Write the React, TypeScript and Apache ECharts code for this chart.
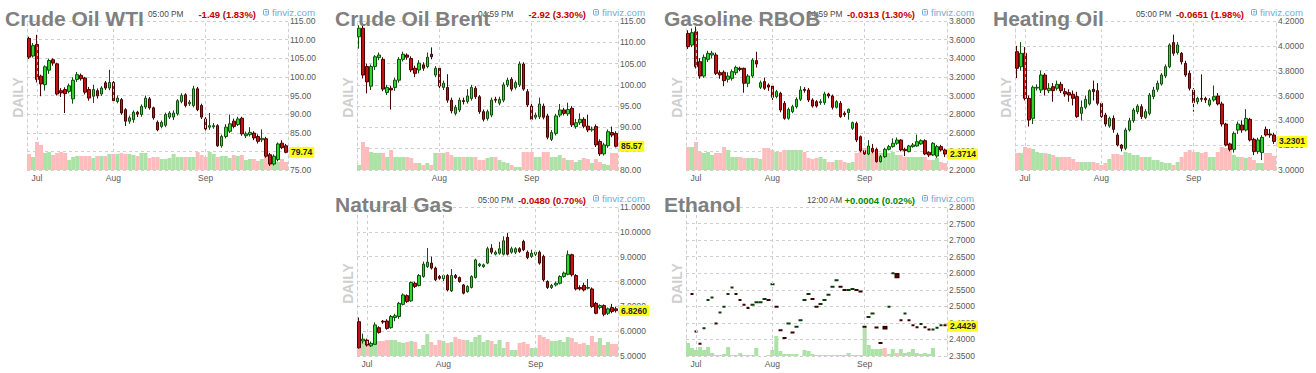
import React, { useEffect, useRef } from 'react';
import * as echarts from 'echarts';

type Candle = [number, number, number, number]; // open, close, low, high

// ---------------- Crude Oil WTI ----------------
const wtiCandles: Candle[] = [
  [110.3, 105.3, 104.8, 110.8], [105.6, 108.4, 105.2, 109.1], [108.7, 99.3, 98.5, 111.3], [100.2, 98.1, 94.8, 100.6],
  [97.9, 102.7, 96.3, 103.1], [101.8, 104.4, 100.8, 104.9], [104.6, 103.7, 103.0, 105.0], [103.5, 95.4, 95.0, 103.8],
  [96.3, 95.7, 94.6, 97.0], [96.6, 95.5, 90.3, 97.2], [96.1, 97.6, 95.6, 98.2], [94.1, 99.1, 92.8, 99.9],
  [99.3, 100.6, 98.6, 101.3], [100.4, 99.5, 99.0, 100.9], [99.7, 95.9, 95.3, 100.0], [96.6, 94.3, 93.6, 97.3],
  [94.8, 96.6, 93.0, 97.9], [96.3, 94.9, 94.2, 96.9], [95.4, 97.0, 94.9, 97.5], [98.4, 97.0, 96.5, 98.9],
  [97.0, 98.5, 96.4, 101.9], [98.5, 93.6, 93.0, 98.9], [93.4, 94.3, 92.9, 95.0], [93.9, 90.3, 89.8, 94.3],
  [91.2, 88.1, 86.8, 91.6], [88.1, 89.0, 87.4, 89.6], [88.5, 90.5, 87.7, 91.0], [90.5, 90.0, 89.2, 90.9],
  [89.9, 92.1, 89.3, 92.6], [91.9, 94.3, 91.4, 95.0], [94.1, 91.7, 91.2, 94.6], [91.7, 89.0, 88.5, 92.0],
  [87.8, 85.8, 85.4, 88.3], [86.7, 87.8, 86.2, 88.3], [87.0, 89.9, 86.5, 90.4], [89.2, 90.3, 88.7, 90.8],
  [89.2, 90.3, 88.4, 91.0], [90.1, 93.6, 89.6, 94.0], [93.4, 95.0, 92.9, 95.6], [95.2, 92.3, 91.8, 95.6],
  [92.8, 93.2, 92.2, 93.8], [92.3, 96.8, 91.8, 97.6], [96.8, 91.2, 90.8, 97.3], [92.3, 89.2, 88.7, 92.8],
  [88.7, 86.0, 85.6, 89.2], [86.5, 86.9, 85.8, 90.3], [86.6, 86.9, 86.1, 87.6], [86.9, 81.5, 81.2, 87.3],
  [81.5, 84.0, 81.0, 84.5], [84.0, 86.5, 83.5, 87.3], [85.4, 87.4, 84.9, 89.9], [88.1, 86.7, 86.2, 88.8],
  [87.2, 88.7, 86.8, 89.3], [88.9, 84.7, 84.2, 89.3], [84.2, 84.7, 83.6, 85.3], [84.5, 85.1, 84.0, 86.5],
  [84.9, 83.6, 83.0, 85.4], [84.0, 82.7, 82.1, 84.6], [83.1, 83.5, 82.5, 85.9], [83.4, 78.7, 78.3, 83.9],
  [79.1, 76.6, 76.1, 79.6], [76.6, 78.7, 76.2, 79.2], [77.8, 82.0, 77.3, 82.4], [82.2, 81.0, 80.6, 83.0],
  [81.5, 79.74, 79.5, 82.0],
];
const wtiVolume: number[] = [
  16, 13, 28, 25, 17, 18, 15, 17, 18, 17, 10, 13, 14, 14, 14, 14, 12, 14, 14, 14,
  16, 16, 16, 17, 16, 16, 15, 14, 17, 17, 12, 13, 13, 11, 11, 12, 16, 13, 13, 13,
  13, 13, 18, 15, 13, 18, 16, 13, 14, 14, 12, 15, 14, 15, 10, 11, 11, 9, 11, 13,
  12, 9, 8, 11, 8,
];

// ---------------- Crude Oil Brent ----------------
const brentCandles: Candle[] = [
  [111.3, 113.3, 108.5, 114.0], [113.3, 102.3, 101.5, 114.3], [104.3, 100.7, 98.0, 105.0], [99.7, 104.3, 98.8, 104.8],
  [104.3, 106.6, 103.5, 107.0], [106.4, 107.0, 105.8, 107.6], [106.0, 99.0, 98.5, 106.5], [98.2, 99.4, 97.6, 100.0],
  [99.2, 98.8, 94.2, 99.8], [99.4, 101.1, 98.6, 101.7], [101.1, 106.0, 100.5, 106.5], [106.0, 107.2, 105.5, 107.8],
  [107.0, 106.5, 105.9, 107.4], [106.2, 103.5, 103.0, 106.7], [103.9, 102.7, 101.8, 104.5], [103.5, 105.1, 102.7, 105.8],
  [104.7, 103.9, 103.3, 105.3], [104.3, 106.5, 103.9, 107.6], [107.2, 106.6, 106.0, 108.8], [102.3, 103.9, 101.8, 104.4],
  [103.9, 99.7, 99.2, 104.3], [99.4, 100.4, 98.8, 101.0], [99.4, 96.4, 95.8, 102.5], [96.4, 93.9, 93.3, 97.0],
  [93.3, 94.7, 92.8, 95.3], [94.1, 96.4, 93.6, 97.0], [96.3, 96.1, 95.4, 97.0], [96.1, 97.4, 95.6, 99.0],
  [96.8, 99.4, 96.3, 100.0], [99.2, 97.2, 96.7, 99.7], [97.2, 93.7, 93.2, 97.6], [93.7, 91.9, 91.4, 94.2],
  [92.1, 93.7, 91.6, 94.2], [92.9, 96.4, 92.4, 97.0], [96.6, 96.4, 95.8, 97.2], [95.7, 96.6, 95.2, 97.2],
  [96.4, 100.0, 95.9, 100.6], [100.0, 101.1, 99.5, 101.7], [101.3, 99.0, 98.5, 101.8], [99.4, 100.5, 98.9, 101.0],
  [100.0, 104.9, 99.5, 105.5], [104.9, 99.0, 98.6, 105.3], [98.4, 95.3, 94.8, 99.0], [95.0, 91.9, 91.4, 95.5],
  [92.4, 92.9, 91.9, 93.5], [92.5, 95.5, 92.0, 97.0], [95.0, 92.4, 91.9, 95.6], [92.7, 87.7, 87.2, 93.2],
  [87.2, 88.8, 86.8, 89.4], [88.6, 92.7, 88.1, 93.2], [92.9, 94.1, 92.4, 95.5], [94.1, 93.3, 92.8, 94.6],
  [93.2, 94.2, 92.7, 95.8], [94.5, 90.6, 90.1, 95.0], [90.2, 91.1, 89.7, 92.0], [91.1, 91.9, 90.6, 93.3],
  [91.9, 90.3, 89.8, 92.4], [90.3, 89.4, 88.9, 93.0], [89.4, 89.6, 89.0, 90.2], [90.2, 85.9, 85.4, 90.7],
  [86.7, 83.8, 83.3, 87.2], [83.8, 85.9, 83.4, 86.4], [85.7, 89.0, 85.2, 89.5], [88.8, 88.2, 87.7, 90.2],
  [88.6, 85.57, 85.3, 89.1],
];
const brentVolume: number[] = [
  5, 28, 23, 18, 17, 17, 17, 13, 20, 13, 13, 13, 13, 12, 7, 7, 5, 7, 5, 17,
  17, 17, 18, 15, 13, 13, 13, 13, 13, 13, 10, 10, 12, 13, 13, 10, 8, 7, 5, 3,
  3, 18, 18, 18, 13, 13, 18, 18, 13, 13, 15, 12, 10, 10, 8, 10, 12, 11, 7, 11,
  8, 6, 5, 17, 17,
];

// ---------------- Gasoline RBOB ----------------
const rbobCandles: Candle[] = [
  [3.667, 3.524, 3.50, 3.700], [3.542, 3.675, 3.52, 3.720], [3.685, 3.310, 3.29, 3.740], [3.363, 3.209, 3.18, 3.400],
  [3.209, 3.410, 3.19, 3.440], [3.388, 3.453, 3.36, 3.480], [3.435, 3.455, 3.40, 3.480], [3.435, 3.238, 3.22, 3.460],
  [3.245, 3.220, 3.18, 3.270], [3.250, 3.159, 3.10, 3.270], [3.174, 3.209, 3.14, 3.250], [3.184, 3.256, 3.16, 3.280],
  [3.245, 3.302, 3.22, 3.320], [3.292, 3.280, 3.26, 3.310], [3.292, 3.131, 3.03, 3.300], [3.131, 3.209, 3.09, 3.230],
  [3.209, 3.381, 3.19, 3.400], [3.374, 3.338, 3.30, 3.470], [3.088, 3.138, 3.07, 3.160], [3.149, 3.077, 3.06, 3.190],
  [3.113, 3.090, 3.05, 3.130], [3.102, 2.980, 2.95, 3.120], [2.988, 3.041, 2.97, 3.060], [3.023, 2.844, 2.82, 3.040],
  [2.916, 2.755, 2.74, 2.940], [2.755, 2.852, 2.74, 2.870], [2.826, 2.880, 2.81, 2.900], [2.880, 2.959, 2.86, 2.980],
  [2.959, 3.059, 2.94, 3.100], [3.066, 3.055, 3.03, 3.090], [3.059, 2.952, 2.93, 3.080], [2.952, 2.887, 2.87, 2.970],
  [2.934, 2.887, 2.87, 2.950], [2.923, 2.934, 2.90, 2.960], [2.923, 3.016, 2.90, 3.040], [3.016, 2.995, 2.97, 3.030],
  [2.995, 2.873, 2.85, 3.010], [2.873, 2.934, 2.86, 2.950], [2.916, 2.773, 2.76, 2.940], [2.809, 2.795, 2.77, 2.830],
  [2.816, 2.852, 2.74, 2.860], [2.648, 2.708, 2.63, 2.720], [2.701, 2.522, 2.50, 2.720], [2.558, 2.408, 2.39, 2.570],
  [2.408, 2.372, 2.34, 2.420], [2.372, 2.458, 2.36, 2.520], [2.433, 2.397, 2.38, 2.480], [2.422, 2.290, 2.28, 2.440],
  [2.290, 2.343, 2.28, 2.360], [2.343, 2.422, 2.33, 2.440], [2.422, 2.451, 2.41, 2.470], [2.451, 2.487, 2.44, 2.540],
  [2.487, 2.522, 2.47, 2.550], [2.522, 2.415, 2.40, 2.530], [2.422, 2.408, 2.35, 2.440], [2.397, 2.458, 2.39, 2.470],
  [2.451, 2.469, 2.44, 2.490], [2.458, 2.504, 2.45, 2.580], [2.480, 2.515, 2.47, 2.530], [2.515, 2.372, 2.36, 2.530],
  [2.390, 2.361, 2.34, 2.400], [2.361, 2.487, 2.35, 2.500], [2.350, 2.451, 2.33, 2.470], [2.451, 2.415, 2.40, 2.470],
  [2.415, 2.3714, 2.34, 2.430],
];
const rbobVolume: number[] = [
  23, 23, 28, 18, 17, 18, 15, 17, 17, 23, 20, 13, 13, 13, 12, 12, 12, 12, 11, 22,
  22, 20, 18, 18, 20, 20, 20, 20, 20, 18, 12, 11, 12, 13, 11, 8, 8, 10, 10, 8,
  7, 8, 17, 22, 22, 17, 20, 15, 17, 17, 17, 18, 15, 15, 13, 13, 13, 13, 13, 13,
  10, 10, 12, 8, 7,
];

// ---------------- Heating Oil ----------------
const hoCandles: Candle[] = [
  [3.953, 3.819, 3.74, 4.00], [3.832, 3.940, 3.80, 4.03], [3.940, 3.577, 3.56, 3.99], [3.577, 3.403, 3.35, 3.60],
  [3.416, 3.666, 3.37, 3.68], [3.660, 3.666, 3.64, 3.69], [3.644, 3.765, 3.62, 3.80], [3.765, 3.650, 3.60, 3.78],
  [3.639, 3.658, 3.62, 3.70], [3.671, 3.639, 3.55, 3.70], [3.658, 3.690, 3.64, 3.72], [3.690, 3.639, 3.62, 3.71],
  [3.631, 3.612, 3.59, 3.66], [3.623, 3.604, 3.55, 3.65], [3.610, 3.577, 3.52, 3.64], [3.591, 3.430, 3.42, 3.63],
  [3.456, 3.505, 3.40, 3.56], [3.505, 3.569, 3.49, 3.60], [3.532, 3.639, 3.52, 3.65], [3.650, 3.631, 3.56, 3.72],
  [3.639, 3.537, 3.52, 3.70], [3.537, 3.430, 3.42, 3.55], [3.443, 3.370, 3.35, 3.46], [3.354, 3.416, 3.34, 3.43],
  [3.416, 3.327, 3.30, 3.44], [3.282, 3.201, 3.19, 3.30], [3.201, 3.175, 3.15, 3.21], [3.175, 3.322, 3.16, 3.34],
  [3.322, 3.397, 3.31, 3.42], [3.397, 3.483, 3.38, 3.50], [3.470, 3.515, 3.45, 3.53], [3.510, 3.430, 3.41, 3.53],
  [3.424, 3.470, 3.41, 3.49], [3.456, 3.604, 3.44, 3.62], [3.591, 3.644, 3.57, 3.67], [3.650, 3.698, 3.63, 3.72],
  [3.692, 3.765, 3.68, 3.78], [3.757, 3.832, 3.74, 3.85], [3.832, 4.007, 3.82, 4.02], [4.026, 3.940, 3.92, 4.09],
  [3.945, 4.007, 3.93, 4.03], [3.940, 3.872, 3.85, 3.95], [3.859, 3.765, 3.75, 3.88], [3.779, 3.658, 3.64, 3.80],
  [3.644, 3.542, 3.47, 3.66], [3.550, 3.577, 3.53, 3.59], [3.577, 3.570, 3.55, 3.77], [3.577, 3.564, 3.54, 3.59],
  [3.524, 3.564, 3.51, 3.58], [3.564, 3.591, 3.55, 3.68], [3.596, 3.532, 3.52, 3.62], [3.532, 3.370, 3.35, 3.55],
  [3.370, 3.201, 3.19, 3.38], [3.210, 3.166, 3.15, 3.22], [3.166, 3.295, 3.14, 3.31], [3.322, 3.370, 3.29, 3.39],
  [3.362, 3.322, 3.30, 3.40], [3.322, 3.416, 3.31, 3.49], [3.408, 3.242, 3.23, 3.42], [3.247, 3.148, 3.12, 3.26],
  [3.148, 3.242, 3.13, 3.26], [3.140, 3.263, 3.08, 3.28], [3.327, 3.282, 3.27, 3.35], [3.290, 3.282, 3.26, 3.33],
  [3.282, 3.2301, 3.21, 3.30],
];
const hoVolume: number[] = [
  17, 17, 23, 22, 21, 18, 17, 17, 16, 15, 13, 13, 13, 13, 11, 8, 8, 8, 8, 8,
  7, 5, 7, 11, 16, 16, 15, 18, 17, 15, 15, 13, 13, 13, 10, 10, 8, 7, 7, 5,
  8, 13, 18, 20, 18, 18, 17, 18, 13, 13, 18, 23, 22, 21, 15, 13, 13, 12, 13, 10,
  7, 7, 17, 17, 14,
];

// ---------------- Natural Gas ----------------
const ngCandles: Candle[] = [
  [6.38, 5.33, 5.30, 6.55], [5.60, 5.68, 5.50, 5.90], [5.64, 5.44, 5.38, 5.70], [5.41, 5.51, 5.36, 5.58],
  [5.47, 6.25, 5.45, 6.35], [6.14, 5.95, 5.90, 6.20], [6.40, 6.37, 6.30, 6.45], [6.41, 6.11, 6.06, 6.48],
  [6.14, 6.59, 6.10, 6.65], [6.55, 6.62, 6.40, 6.70], [6.59, 7.12, 6.50, 7.18], [7.08, 7.46, 7.04, 7.52],
  [7.43, 7.19, 7.14, 7.48], [7.22, 7.96, 7.18, 8.00], [7.93, 7.80, 7.74, 8.00], [7.84, 8.24, 7.80, 8.30],
  [8.20, 8.70, 8.15, 8.80], [8.60, 8.78, 8.55, 9.35], [8.74, 8.54, 8.48, 9.00], [8.54, 8.07, 8.02, 8.60],
  [8.20, 8.13, 8.07, 8.26], [8.11, 8.24, 7.90, 8.28], [8.24, 7.66, 7.60, 8.30], [7.62, 8.24, 7.58, 8.50],
  [8.24, 8.16, 8.10, 8.30], [8.16, 8.00, 7.95, 8.20], [7.86, 7.53, 7.48, 7.90], [7.59, 7.80, 7.55, 7.85],
  [7.76, 8.20, 7.72, 8.25], [8.16, 8.87, 8.12, 8.92], [8.64, 8.70, 8.58, 8.75], [8.60, 8.67, 8.55, 8.72],
  [8.74, 9.32, 8.70, 9.40], [9.34, 9.18, 9.10, 9.50], [9.10, 9.18, 9.05, 9.25], [9.14, 9.32, 9.08, 9.60],
  [9.10, 9.64, 9.05, 9.82], [9.78, 9.10, 9.05, 9.95], [9.18, 9.32, 9.12, 9.40], [9.18, 9.32, 9.10, 9.38],
  [9.32, 9.21, 9.15, 9.38], [9.61, 9.28, 9.22, 9.68], [9.18, 8.97, 8.90, 9.25], [9.01, 9.14, 8.95, 9.28],
  [9.10, 9.18, 9.02, 9.24], [9.18, 8.74, 8.68, 9.25], [9.01, 8.07, 8.00, 9.08], [8.00, 7.76, 7.70, 8.05],
  [7.76, 7.84, 7.70, 7.90], [7.86, 7.93, 7.80, 8.00], [7.93, 8.20, 7.88, 8.25], [8.20, 8.34, 8.15, 8.40],
  [8.29, 9.08, 8.25, 9.25], [9.08, 8.27, 8.20, 9.12], [8.24, 7.70, 7.64, 8.30], [7.76, 7.70, 7.64, 7.85],
  [7.84, 7.66, 7.60, 7.95], [7.73, 7.76, 7.68, 8.10], [7.70, 6.99, 6.94, 7.76], [7.12, 6.72, 6.68, 7.18],
  [6.95, 7.03, 6.88, 7.08], [7.03, 6.68, 6.60, 7.08], [6.72, 6.90, 6.65, 6.95], [6.95, 6.79, 6.72, 7.10],
  [6.90, 6.826, 6.75, 6.98],
];
const ngVolume: number[] = [
  8, 14, 14, 11, 14, 15, 15, 16, 16, 16, 14, 13, 14, 15, 14, 7, 11, 22, 14, 11,
  16, 15, 13, 14, 19, 17, 16, 16, 14, 19, 21, 14, 16, 15, 12, 16, 8, 14, 6, 6,
  13, 14, 12, 8, 8, 21, 19, 17, 15, 15, 16, 14, 19, 18, 14, 12, 13, 11, 20, 14,
  18, 11, 14, 12, 12,
];

// ---------------- Ethanol ----------------
const ethCandles: Candle[] = [
  [2.788, 2.788, 2.788, 2.788], [2.537, 2.537, 2.537, 2.537], [2.424, 2.424, 2.424, 2.424], [2.387, 2.387, 2.387, 2.387],
  [2.434, 2.434, 2.434, 2.434], [2.519, 2.519, 2.519, 2.519], [2.527, 2.527, 2.527, 2.527], [2.448, 2.448, 2.448, 2.448],
  [2.481, 2.481, 2.481, 2.481], [2.499, 2.499, 2.499, 2.499], [2.537, 2.537, 2.537, 2.537], [2.557, 2.557, 2.557, 2.557],
  [2.537, 2.537, 2.537, 2.537], [2.519, 2.519, 2.519, 2.519], [2.505, 2.505, 2.505, 2.505], [2.495, 2.495, 2.495, 2.495],
  [2.505, 2.505, 2.505, 2.505], [2.512, 2.512, 2.512, 2.512], [2.512, 2.512, 2.512, 2.512], [2.522, 2.522, 2.522, 2.522],
  [2.519, 2.519, 2.519, 2.519], [2.567, 2.567, 2.567, 2.567], [2.499, 2.499, 2.499, 2.499], [2.428, 2.428, 2.428, 2.428],
  [2.404, 2.404, 2.404, 2.404], [2.448, 2.448, 2.448, 2.448], [2.421, 2.421, 2.421, 2.421], [2.438, 2.438, 2.438, 2.438],
  [2.458, 2.458, 2.458, 2.458], [2.519, 2.519, 2.519, 2.519], [2.537, 2.537, 2.537, 2.537], [2.522, 2.522, 2.522, 2.522],
  [2.499, 2.499, 2.499, 2.499], [2.507, 2.507, 2.507, 2.507], [2.519, 2.519, 2.519, 2.519], [2.535, 2.535, 2.535, 2.535],
  [2.559, 2.559, 2.559, 2.559], [2.579, 2.579, 2.579, 2.579], [2.559, 2.559, 2.559, 2.559], [2.549, 2.549, 2.549, 2.549],
  [2.549, 2.549, 2.549, 2.549], [2.552, 2.552, 2.552, 2.552], [2.549, 2.549, 2.549, 2.549], [2.545, 2.545, 2.545, 2.545],
  [2.438, 2.438, 2.438, 2.438], [2.468, 2.468, 2.468, 2.468], [2.478, 2.478, 2.478, 2.478], [2.436, 2.436, 2.436, 2.436],
  [2.389, 2.389, 2.389, 2.389], [2.438, 2.433, 2.433, 2.438], [2.499, 2.499, 2.499, 2.499], [2.600, 2.600, 2.600, 2.600],
  [2.598, 2.588, 2.588, 2.598], [2.458, 2.458, 2.458, 2.458], [2.478, 2.478, 2.478, 2.478], [2.458, 2.458, 2.458, 2.458],
  [2.443, 2.443, 2.443, 2.443], [2.437, 2.437, 2.437, 2.437], [2.447, 2.447, 2.447, 2.447], [2.437, 2.437, 2.437, 2.437],
  [2.430, 2.430, 2.430, 2.430], [2.430, 2.430, 2.430, 2.430], [2.435, 2.435, 2.435, 2.435], [2.443, 2.443, 2.443, 2.443],
  [2.4429, 2.4429, 2.4429, 2.4429],
];
const ethVolume: number[] = [
  13, 8, 6, 9, 6, 9, 3, 1, 1, 2, 9, 1, 1, 3, 1, 1, 1, 8, 0, 0,
  1, 6, 20, 5, 2, 2, 2, 2, 0, 6, 5, 2, 1, 1, 1, 1, 1, 1, 1, 1,
  3, 1, 1, 1, 29, 11, 7, 7, 7, 8, 2, 7, 3, 7, 3, 4, 7, 3, 2, 3,
  2, 8, 0, 0, 0,
];

// month label positions (category index) and names
const stdMonthIdx = [2, 21, 44];
const stdMonthNames = ['Jul', 'Aug', 'Sep'];
const brentMonthIdx = [20, 43];
const brentMonthNames = ['Aug', 'Sep'];

interface Panel {
  title: string; time: string; change: string; changeColor: string;
  ox: number; oy: number; min: number; max: number; step: number; dec: number;
  last: number; lastText: string; candles: Candle[]; volume: number[];
  monthIdx: number[]; monthNames: string[]; marker?: boolean;
}

const panels: Panel[] = [
  { title: 'Crude Oil WTI', time: '05:00 PM', change: '-1.49 (1.83%)', changeColor: '#c40000', ox: 0, oy: 0,
    min: 75, max: 115, step: 5, dec: 2, last: 79.74, lastText: '79.74', candles: wtiCandles, volume: wtiVolume,
    monthIdx: stdMonthIdx, monthNames: stdMonthNames },
  { title: 'Crude Oil Brent', time: '04:59 PM', change: '-2.92 (3.30%)', changeColor: '#c40000', ox: 330, oy: 0,
    min: 80, max: 115, step: 5, dec: 2, last: 85.57, lastText: '85.57', candles: brentCandles, volume: brentVolume,
    monthIdx: brentMonthIdx, monthNames: brentMonthNames },
  { title: 'Gasoline RBOB', time: '04:59 PM', change: '-0.0313 (1.30%)', changeColor: '#c40000', ox: 659, oy: 0,
    min: 2.2, max: 3.8, step: 0.2, dec: 4, last: 2.3714, lastText: '2.3714', candles: rbobCandles, volume: rbobVolume,
    monthIdx: stdMonthIdx, monthNames: stdMonthNames },
  { title: 'Heating Oil', time: '05:00 PM', change: '-0.0651 (1.98%)', changeColor: '#c40000', ox: 988, oy: 0,
    min: 3.0, max: 4.2, step: 0.2, dec: 4, last: 3.2301, lastText: '3.2301', candles: hoCandles, volume: hoVolume,
    monthIdx: stdMonthIdx, monthNames: stdMonthNames },
  { title: 'Natural Gas', time: '05:00 PM', change: '-0.0480 (0.70%)', changeColor: '#c40000', ox: 330, oy: 186,
    min: 5, max: 11, step: 1, dec: 4, last: 6.826, lastText: '6.8260', candles: ngCandles, volume: ngVolume,
    monthIdx: stdMonthIdx, monthNames: stdMonthNames },
  { title: 'Ethanol', time: '12:00 AM', change: '+0.0004 (0.02%)', changeColor: '#008a00', ox: 659, oy: 186,
    min: 2.35, max: 2.8, step: 0.05, dec: 4, last: 2.4429, lastText: '2.4429', candles: ethCandles, volume: ethVolume,
    monthIdx: stdMonthIdx, monthNames: stdMonthNames, marker: true },
];

const GRID_LINE = '#cfcfcf';
const DASH = [3, 3];
const VOL_UP = '#ade2a6';
const VOL_DOWN = '#ffbcbc';
const LINK = '#72acd8';
const FONT = 'Arial, "Liberation Sans", sans-serif';

function buildOption() {
  const grid: any[] = [];
  const xAxis: any[] = [];
  const yAxis: any[] = [];
  const series: any[] = [];
  const graphic: any[] = [];

  panels.forEach((p, k) => {
    const cats = p.candles.map((_, i) => String(i));
    grid.push({ left: p.ox + 27, top: p.oy + 21, width: 261, height: 149 });
    xAxis.push({
      type: 'category', gridIndex: k, data: cats, boundaryGap: true,
      axisLine: { show: false }, axisTick: { show: false }, splitLine: { show: false },
      axisLabel: {
        interval: (i: number) => p.monthIdx.includes(i),
        formatter: (v: string) => {
          const j = p.monthIdx.indexOf(Number(v));
          return j >= 0 ? p.monthNames[j] : '';
        },
        color: '#595959', fontSize: 8.5, fontFamily: FONT, margin: 3,
      },
    });
    yAxis.push({
      type: 'value', gridIndex: k, position: 'right', min: p.min, max: p.max, interval: p.step,
      axisLine: { show: true, lineStyle: { color: GRID_LINE, type: DASH } },
      axisTick: { show: false },
      splitLine: { show: true, lineStyle: { color: GRID_LINE, type: DASH } },
      axisLabel: { color: '#595959', fontSize: 8.5, fontFamily: FONT, margin: 2,
        formatter: (v: number) => v.toFixed(p.dec) },
    });
    yAxis.push({
      type: 'value', gridIndex: k, position: 'left', min: 0, max: 149,
      axisLine: { show: true, lineStyle: { color: GRID_LINE, type: DASH } },
      axisTick: { show: false }, axisLabel: { show: false }, splitLine: { show: false },
    });

    series.push({
      type: 'bar', xAxisIndex: k, yAxisIndex: 2 * k + 1, barCategoryGap: '0%', z: 1, silent: true,
      data: p.volume.map((v, i) => ({
        value: v,
        itemStyle: { color: p.candles[i][1] >= p.candles[i][0] ? VOL_UP : VOL_DOWN },
      })),
      markLine: {
        silent: true, symbol: ['none', 'none'], label: { show: false },
        lineStyle: { color: GRID_LINE, type: DASH, width: 1 },
        data: p.monthIdx.map((m) => ({ xAxis: m })),
      },
    });

    const style = p.marker
      ? { color: '#1d5c1d', color0: '#a01010', borderColor: '#0c3a0c', borderColor0: '#3a0000', borderWidth: 2 }
      : { color: '#2bd82b', color0: '#c41212', borderColor: '#0e4f0e', borderColor0: '#4a0000', borderWidth: 1 };

    series.push({
      type: 'candlestick', xAxisIndex: k, yAxisIndex: 2 * k, z: 3, silent: true,
      barWidth: p.marker ? 4 : 3,
      data: p.candles,
      itemStyle: style,
      markLine: {
        silent: true, symbol: ['none', 'none'],
        lineStyle: { color: 'rgba(0,0,0,0)', width: 0 },
        data: [{ yAxis: p.last }],
        label: {
          show: true, position: 'end', distance: 1, formatter: p.lastText,
          backgroundColor: '#ffff1a', color: '#222', fontWeight: 'bold', fontSize: 8.5,
          fontFamily: FONT, padding: [1, 2, 1, 2],
        },
      },
    });

    // header texts
    graphic.push({
      type: 'text', x: p.ox + 148, y: p.oy + 14, z: 10,
      style: { text: p.time, fill: '#4a4a4a', font: `8.3px ${FONT}`, textVerticalAlign: 'middle' },
    });
    graphic.push({
      type: 'text', x: p.ox + 256, y: p.oy + 14, z: 10,
      style: { text: p.change, fill: p.changeColor, font: `bold 9.5px ${FONT}`, textAlign: 'right', textVerticalAlign: 'middle' },
    });
    graphic.push({
      type: 'rect', z: 10, shape: { x: p.ox + 263.5, y: p.oy + 9.5, width: 5, height: 5.5, r: 1 },
      style: { fill: 'none', stroke: LINK, lineWidth: 1 },
    });
    graphic.push({
      type: 'line', z: 10, shape: { x1: p.ox + 265, y1: p.oy + 11.5, x2: p.ox + 267.5, y2: p.oy + 11.5 },
      style: { stroke: LINK, lineWidth: 0.8 },
    });
    graphic.push({
      type: 'line', z: 10, shape: { x1: p.ox + 265, y1: p.oy + 13, x2: p.ox + 267.5, y2: p.oy + 13 },
      style: { stroke: LINK, lineWidth: 0.8 },
    });
    graphic.push({
      type: 'text', x: p.ox + 272, y: p.oy + 12.5, z: 10,
      style: { text: 'finviz.com', fill: LINK, font: `9.7px ${FONT}`, textVerticalAlign: 'middle' },
    });
    graphic.push({
      type: 'text', x: p.ox + 5, y: p.oy + 18, z: 20,
      style: { text: p.title, fill: '#808080', font: `bold 21px ${FONT}`, textVerticalAlign: 'middle' },
    });
    graphic.push({
      type: 'text', x: p.ox + 17.5, y: p.oy + 97.5, z: 10, rotation: Math.PI / 2,
      style: { text: 'DAILY', fill: '#cfcfcf', font: `bold 14px ${FONT}`, textAlign: 'center', textVerticalAlign: 'middle' },
    });
  });

  return { animation: false, backgroundColor: '#ffffff', grid, xAxis, yAxis, series, graphic };
}

export default function App() {
  const ref = useRef<HTMLDivElement>(null);
  useEffect(() => {
    if (!ref.current) return;
    const chart = echarts.init(ref.current, undefined, { renderer: 'svg' });
    chart.setOption(buildOption() as any);
    return () => chart.dispose();
  }, []);
  return (
    <div
      ref={ref}
      style={{ position: 'fixed', left: 0, top: 0, width: 1316, height: 373, background: '#fff' }}
    />
  );
}
